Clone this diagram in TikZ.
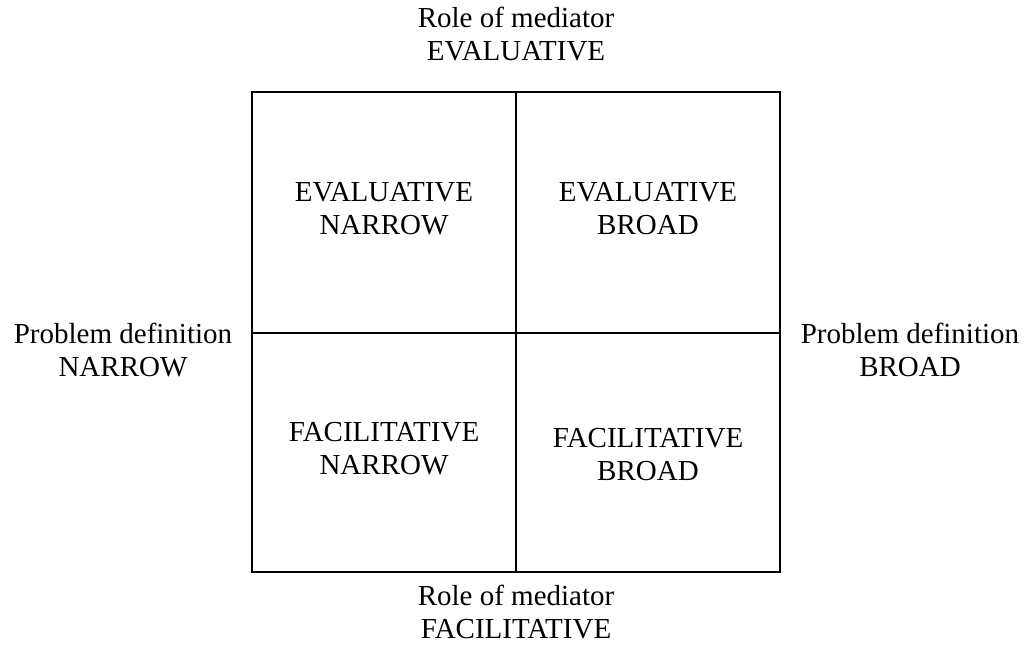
\documentclass[tikz,border=0pt]{standalone}
\usepackage{fontspec}
\setmainfont{Liberation Serif}
\begin{document}
\begin{tikzpicture}[x=1pt,y=-1pt,
  lbl/.style={align=center,font=\fontsize{29}{33}\selectfont,inner sep=0pt},
  frame/.style={line width=2.4pt},
  divider/.style={line width=2pt}]
\useasboundingbox (0,0) rectangle (1026,645);
% quadrant grid
\coordinate (tl) at (252,92);
\coordinate (br) at (780,572);
\coordinate (tm) at (516,92);
\coordinate (bm) at (516,572);
\coordinate (lm) at (252,333);
\coordinate (rm) at (780,333);
\draw[divider] (tm) -- (bm);
\draw[divider] (lm) -- (rm);
\draw[frame] (tl) rectangle (br);
% quadrant labels
\node[lbl] (en) at (384,209) {EVALUATIVE\\NARROW};
\node[lbl] (eb) at (648,209) {EVALUATIVE\\BROAD};
\node[lbl] (fn) at (384,449) {FACILITATIVE\\NARROW};
\node[lbl] (fb) at (648,455) {FACILITATIVE\\BROAD};
% axis labels
\node[lbl] (top) at (516,34) {Role of mediator\\EVALUATIVE};
\node[lbl] (bot) at (516,612) {Role of mediator\\FACILITATIVE};
\node[lbl] (lft) at (123,350) {Problem definition\\NARROW};
\node[lbl] (rgt) at (910,350) {Problem definition\\BROAD};
\end{tikzpicture}
\end{document}
